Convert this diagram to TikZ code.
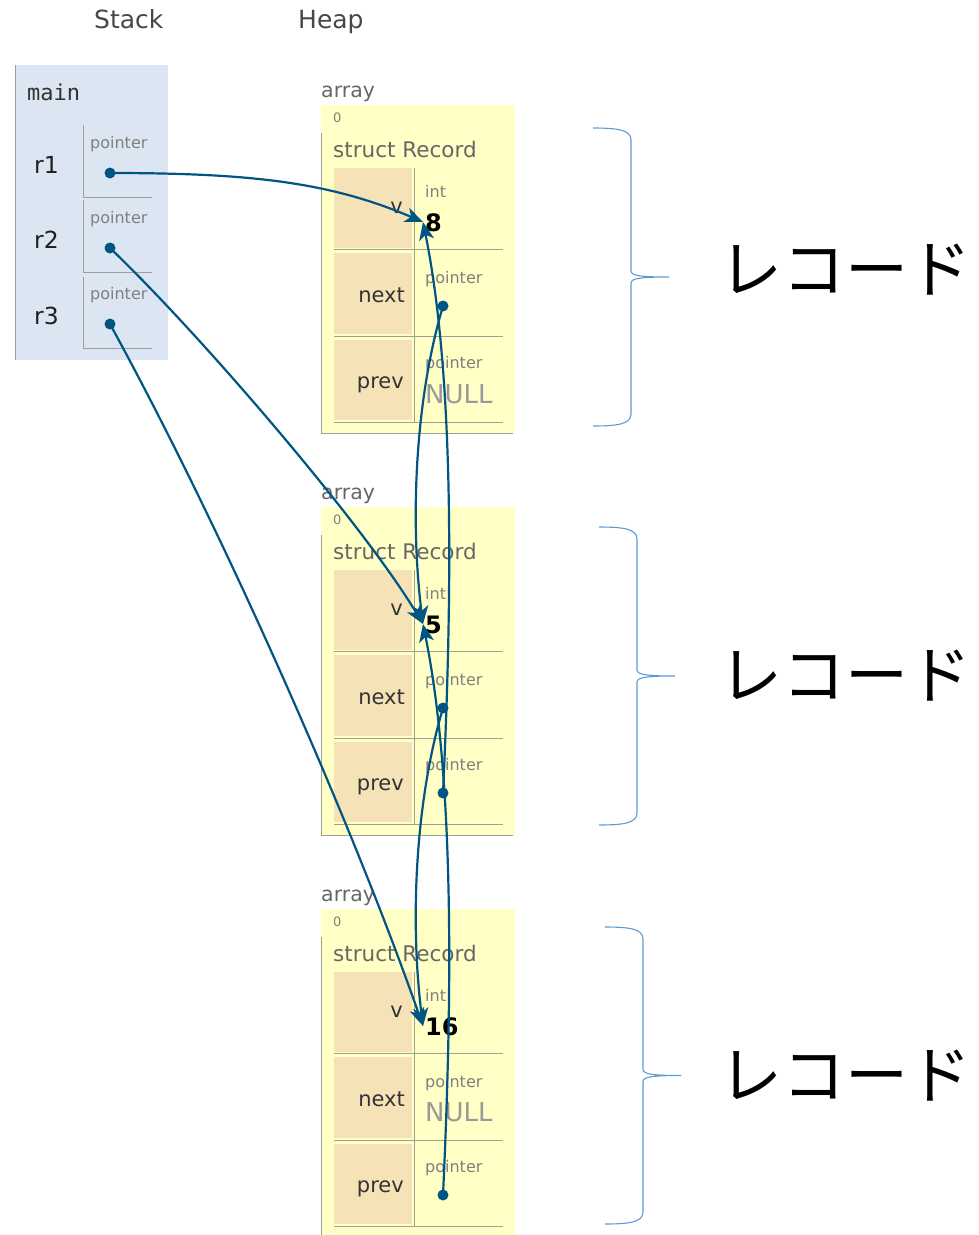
\documentclass[tikz,border=0pt]{standalone}
\usepackage{fontspec}
\setmainfont{DejaVu Sans}
\newfontfamily\framemono{DejaVu Sans Mono}
\newfontfamily\cjk{Noto Sans CJK JP}
\usetikzlibrary{arrows.meta,positioning,calc}

\definecolor{framebg}{HTML}{DCE6F2}
\definecolor{heapbg}{HTML}{FFFFC6}
\definecolor{fieldbg}{HTML}{F5E2B6}
\definecolor{ptrcol}{HTML}{005583}
\definecolor{bracecol}{HTML}{5B9BD5}
\definecolor{rulecol}{HTML}{A09F96}

\tikzset{
  txt/.style={inner sep=0pt, anchor=base west},
  header/.style={txt, text=black!72, font=\fontsize{25}{30}\selectfont},
  varname/.style={txt, text=black!88, font=\fontsize{23.5}{28}\selectfont},
  typename/.style={txt, text=black!50, font=\fontsize{16}{19}\selectfont},
  fieldname/.style={inner sep=0pt, anchor=base east, text=black!80, font=\fontsize{21}{25}\selectfont},
  heaplabel/.style={txt, text=black!60, font=\fontsize{20.5}{24}\selectfont},
  number/.style={txt, text=black, font=\bfseries\fontsize{24}{28}\selectfont},
  nullval/.style={txt, text=black!40, font=\fontsize{26}{30}\selectfont},
  ptr/.style={draw=ptrcol, line width=2.2pt, -{Stealth[length=18pt,width=15pt,inset=5pt]}},
  cellrule/.style={draw=rulecol, line width=1pt},
  brace/.style={draw=bracecol, line width=1.1pt},
  reclabel/.style={inner sep=0pt, anchor=west, font=\cjk\fontsize{63}{63}\selectfont}
}

\newcommand{\heaprecord}[5]{%
\begin{scope}[shift={(0,#2)}]
\node[heaplabel] (Array#1) at (321,97) {array};
\fill[heapbg] (321,105) rectangle (515,433);
\fill[fieldbg] (334,168) rectangle (412,248);
\fill[fieldbg] (334,253) rectangle (412,334);
\fill[fieldbg] (334,340) rectangle (412,420);
\draw[cellrule] (321,133) -- (321,433) -- (513,433);
\draw[cellrule] (414,168) -- (414,422);
\foreach \y in {249,336,422} \draw[cellrule] (334,\y) -- (503,\y);
\node[typename, font=\fontsize{13}{15}\selectfont] (Index#1) at (333,122) {0};
\node[heaplabel, font=\fontsize{21.5}{25}\selectfont] (StructRecord#1) at (333,157) {struct Record};
\node[fieldname] (FieldV#1) at (403,213) {v};
\node[fieldname] (FieldNext#1) at (405,302) {next};
\node[fieldname] (FieldPrev#1) at (404,388) {prev};
\node[typename] (IntType#1) at (425,197) {int};
\node[typename] (NextType#1) at (425,283) {pointer};
\node[typename] (PrevType#1) at (425,368) {pointer};
\node[number] (Value#1) at (425,231) {#3};
\coordinate (V#1) at (423,222);
#4
#5
\end{scope}}

\newcommand{\recbrace}[3]{%
\pgfmathsetmacro\bmid{(#2+#3)/2}
\draw[brace] (#1,#2) .. controls (#1+25,#2) and (#1+38,#2+2) .. (#1+38,#2+12)
  -- (#1+38,\bmid-6) .. controls (#1+38,\bmid-1) and (#1+50,\bmid) .. (#1+76,\bmid)
  .. controls (#1+50,\bmid) and (#1+38,\bmid+1) .. (#1+38,\bmid+6)
  -- (#1+38,#3-12) .. controls (#1+38,#3-2) and (#1+25,#3) .. (#1,#3);}

\begin{document}
\begin{tikzpicture}[x=1pt,y=-1pt]
\useasboundingbox (0,0) rectangle (978,1235);
\clip (0,0) rectangle (978,1235);

\node[header] (Stack) at (94,28) {Stack};
\node[header] (Heap) at (298,28) {Heap};

\fill[framebg] (15,65) rectangle (168,360);
\draw[cellrule] (15,65) -- (15,360);
\node[txt, text=black!80, font=\framemono\fontsize{22}{26}\selectfont] (Main) at (27,100) {main};
\foreach \i/\t/\b in {1/125/197,2/200/272,3/277/348}
  \draw[cellrule] (83,\t) -- (83,\b) -- (152,\b);
\foreach \i/\d in {1/0,2/75,3/151}{
  \node[varname] (R\i) at (34,173+\d) {r\i};
  \node[typename] (PtrType\i) at (90,148+\d) {pointer};
  \coordinate (PtrR\i) at (110,173+\d);
}

\heaprecord{1}{0}{8}{\coordinate (Next1) at (443,306);}{\node[nullval] (NullPrev1) at (425,403) {NULL};}
\heaprecord{2}{402}{5}{\coordinate (Next2) at (443,306);}{\coordinate (Prev2) at (443,391);}
\heaprecord{3}{804}{16}{\node[nullval] (NullNext3) at (425,317) {NULL};}{\coordinate (Prev3) at (443,391);}

\recbrace{593}{128}{426}
\recbrace{599}{527}{825}
\recbrace{605}{927}{1224}
\node[reclabel] (RecordLabel1) at (719,270) {レコード};
\node[reclabel] (RecordLabel2) at (719,676) {レコード};
\node[reclabel] (RecordLabel3) at (719,1076) {レコード};

\draw[ptr] (PtrR1) .. controls +(140,0) and +(-93,-40) .. (V1);
\draw[ptr] (PtrR2) .. controls +(90,86) and +(-60,-100) .. (V2);
\draw[ptr] (PtrR3) .. controls +(115,210) and +(-70,-200) .. (V3);
\draw[ptr] (Next1) .. controls +(-28,94) and +(-13,-104) .. (V2);
\draw[ptr] (Next2) .. controls +(-28,94) and +(-13,-104) .. (V3);
\draw[ptr] (Prev2) .. controls +(9,-193) and +(32,158) .. (V1);
\draw[ptr] (Prev3) .. controls +(9,-193) and +(32,158) .. (V2);

\foreach \d in {PtrR1,PtrR2,PtrR3,Next1,Next2,Prev2,Prev3}
  \fill[ptrcol] (\d) circle (5.5);
\end{tikzpicture}
\end{document}
